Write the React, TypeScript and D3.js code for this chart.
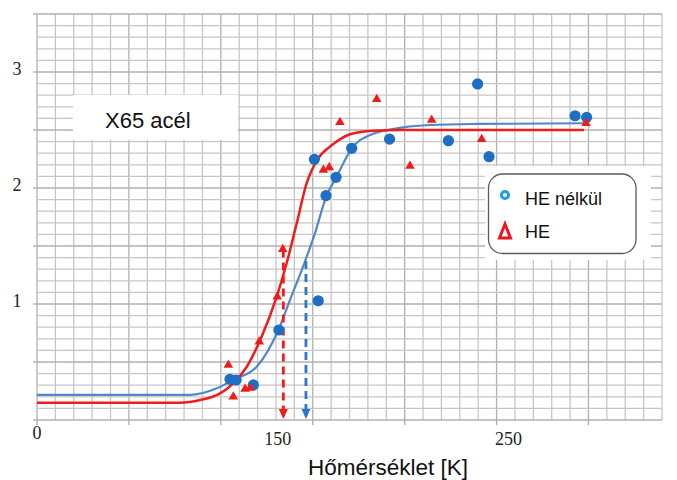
import * as d3 from "d3";

// blue: without HE (HE nélkül)
const blueX = [105.0, 108.3, 117.7, 131.6, 153.0, 150.9, 157.2, 162.7, 171.2, 191.8, 223.8, 239.7, 245.9, 292.7, 299.0];
const blueY = [0.351, 0.345, 0.302, 0.776, 1.028, 2.247, 1.934, 2.092, 2.342, 2.421, 2.408, 2.897, 2.27, 2.623, 2.609];

// red: with HE
const redX = [104.1, 106.8, 113.2, 115.9, 120.9, 130.7, 133.7, 155.8, 159.0, 164.8, 184.8, 202.9, 214.7, 241.9, 298.7];
const redY = [0.474, 0.201, 0.267, 0.276, 0.675, 1.063, 1.472, 2.155, 2.178, 2.566, 2.765, 2.19, 2.586, 2.42, 2.558];

// fitted curves
const blueCurveX = [0, 83.2, 97.8, 106.6, 119.5, 131.3, 137.6, 145.4, 151.2, 157.2, 163.0, 171.2, 181.2, 199.5, 213.8, 239.4, 298.1];
const blueCurveY = [0.216, 0.216, 0.273, 0.345, 0.459, 0.776, 1.034, 1.351, 1.609, 1.92, 2.097, 2.342, 2.457, 2.523, 2.543, 2.552, 2.558];
const redCurveX = [0, 77.8, 88.7, 99.6, 106.8, 114.1, 122.2, 130.4, 135.8, 141.3, 146.7, 153.0, 160.5, 170.3, 183.0, 197.5, 297.6];
const redCurveY = [0.149, 0.149, 0.172, 0.23, 0.316, 0.459, 0.718, 1.063, 1.351, 1.696, 2.041, 2.256, 2.37, 2.463, 2.494, 2.5, 2.5];

// transition temperature arrows
const arrowX = [134.0, 146.3];
const arrowTop = [1.47, 1.37];

const xTickText = ["0", "150", "250"];
const xTickAt = [0, 131, 256.5];
const yTickText = ["1", "2", "3"];

const W = 677;
const H = 480;
const RED = "#f01c1c";
const BLUE = "#1e6ec4";
const BLUE_LINE = "#5286cc";

export default function App() {
  const x = d3.scaleLinear().domain([0, 340]).range([37, 662]);
  const y = d3.scaleLinear().domain([0, 3.5]).range([420, 14]);

  const vLines = d3.range(0, 341, 10);
  const hLines = d3.range(0, 36).map((i) => i / 10);

  const line = d3
    .line<number>()
    .curve(d3.curveMonotoneX);

  const bluePath = line
    .x((d, i) => x(blueCurveX[i]))
    .y((d) => y(d))(blueCurveY);
  const redPath = line
    .x((d, i) => x(redCurveX[i]))
    .y((d) => y(d))(redCurveY);

  const tri = d3.symbol(d3.symbolTriangle, 40)();
  const arrowColors = [RED, "#2b78c8"];

  return (
    <svg width={W} height={H} style={{ position: "absolute", left: 0, top: 0, background: "#fff" }}>
      <g>
        {vLines.map((v) => (
          <line key={"v" + v} x1={x(v)} x2={x(v)} y1={y(3.5)} y2={y(0)}
            stroke={v % 50 === 0 ? "#b0b0b0" : "#c6c6c6"} strokeWidth={1.3} />
        ))}
        {hLines.map((v, i) => (
          <line key={"h" + i} x1={x(0)} x2={x(340)} y1={y(v)} y2={y(v)}
            stroke={i % 5 === 0 ? "#b0b0b0" : "#c6c6c6"} strokeWidth={1.3} />
        ))}
        {d3.range(0, 341, 50).map((v) => (
          <line key={"xt" + v} x1={x(v)} x2={x(v)} y1={420} y2={425} stroke="#a8a8a8" strokeWidth={1.3} />
        ))}
        {d3.range(0, 3.51, 0.5).map((v) => (
          <line key={"yt" + v} x1={33} x2={37} y1={y(v)} y2={y(v)} stroke="#a8a8a8" strokeWidth={1.3} />
        ))}
      </g>

      <rect x={73} y={95} width={165} height={45} fill="#fff" />
      <text x={105} y={128} fontFamily="Liberation Sans, Arial, sans-serif" fontSize={22} fill="#111">X65 acél</text>

      <rect x={485} y={166} width={166} height={94} fill="#fff" />

      <path d={bluePath ?? ""} fill="none" stroke={BLUE_LINE} strokeWidth={2.2} />
      <path d={redPath ?? ""} fill="none" stroke={RED} strokeWidth={2.5} />

      {arrowX.map((v, i) => (
        <g key={"a" + i}>
          <line x1={x(v)} x2={x(v)} y1={y(arrowTop[i])} y2={410} stroke={arrowColors[i]}
            strokeWidth={2.8} strokeDasharray="8,5" />
          <path d={`M${x(v) - 4.5},409 L${x(v) + 4.5},409 L${x(v)},419 Z`} fill={arrowColors[i]} />
        </g>
      ))}

      {blueX.map((v, i) => (
        <circle key={"b" + i} cx={x(v)} cy={y(blueY[i])} r={5.6} fill={BLUE} />
      ))}
      {redX.map((v, i) => (
        <path key={"r" + i} d={tri ?? ""} transform={`translate(${x(v)},${y(redY[i])})`} fill={RED} />
      ))}

      {xTickText.map((t, i) => (
        <text key={"xl" + i} x={x(xTickAt[i])} y={i === 0 ? 439 : 445} textAnchor="middle"
          fontFamily="Liberation Serif, Times New Roman, serif" fontSize={18} fill="#222">{t}</text>
      ))}
      {yTickText.map((t, i) => (
        <text key={"yl" + i} x={17} y={y(+t) + 3} textAnchor="middle"
          fontFamily="Liberation Serif, Times New Roman, serif" fontSize={18} fill="#222">{t}</text>
      ))}

      <text x={388} y={475} textAnchor="middle" fontFamily="Liberation Sans, Arial, sans-serif"
        fontSize={22.5} fill="#111">Hőmérséklet [K]</text>

      <rect x={488.5} y={174} width={147.5} height={79.5} rx={14} fill="#fff" stroke="#5a5a5a" strokeWidth={1.3} />
      <circle cx={505} cy={195} r={3.6} fill="#fff" stroke="#1e9ee8" strokeWidth={3} />
      <text x={525} y={205} fontFamily="Liberation Sans, Arial, sans-serif" fontSize={18} fill="#111">HE nélkül</text>
      <path d="M505,224 L510.5,238 L499.5,238 Z" fill="#fff" stroke="#f0141c" strokeWidth={3} strokeLinejoin="miter" />
      <text x={525} y={238} fontFamily="Liberation Sans, Arial, sans-serif" fontSize={18} fill="#111">HE</text>
    </svg>
  );
}
